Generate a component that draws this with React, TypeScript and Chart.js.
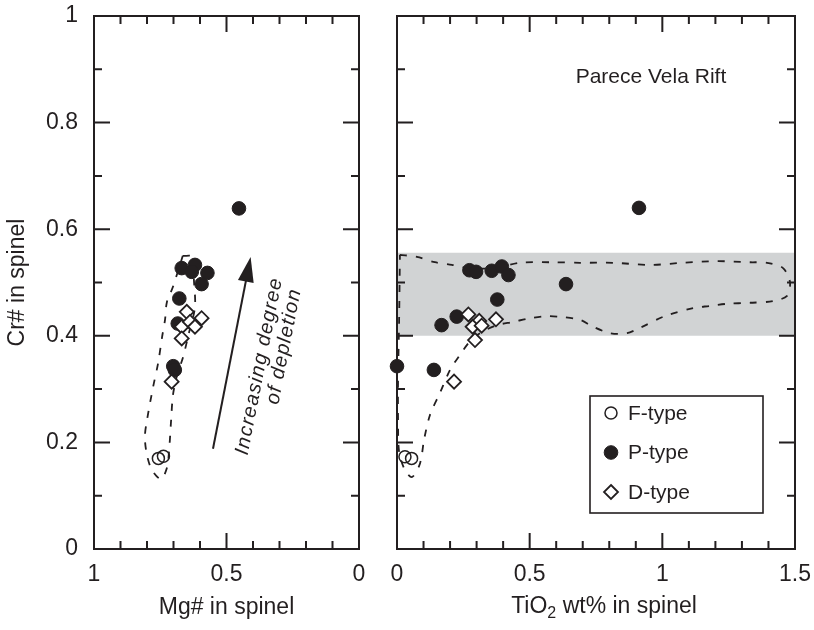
import { useEffect, useRef } from "react";
import { Chart, registerables } from "chart.js";

Chart.register(...registerables);

const FONT = "'Liberation Sans', Arial, Helvetica, sans-serif";
const INK = "#231f20";
const BAND_GREY = "#d1d3d4";

// Shared Cr# axis
const CR_TICKS = [0, 0.2, 0.4, 0.6, 0.8, 1];
const CR_MINOR = [0.1, 0.3, 0.5, 0.7, 0.9];

// Mg# panel axis
const MG_TICKS = [1, 0.5, 0];
const MG_MINOR = [0.1, 0.2, 0.3, 0.4, 0.6, 0.7, 0.8, 0.9];

// Mg# panel samples
const F_MG = [0.757, 0.738];
const F_MG_CR = [0.17, 0.174];
const P_MG = [0.453, 0.669, 0.619, 0.631, 0.572, 0.594, 0.678, 0.684, 0.701, 0.695];
const P_MG_CR = [0.639, 0.527, 0.533, 0.52, 0.518, 0.497, 0.47, 0.423, 0.343, 0.336];
const D_MG = [0.65, 0.669, 0.638, 0.594, 0.619, 0.669, 0.707];
const D_MG_CR = [0.445, 0.417, 0.426, 0.433, 0.417, 0.395, 0.314];

// Mg# panel field outline (closed)
const MG_FIELD_X = [0.665, 0.628, 0.623, 0.619, 0.642, 0.664, 0.687, 0.702, 0.709, 0.717, 0.725, 0.747, 0.781, 0.8, 0.808, 0.8, 0.777, 0.758, 0.743, 0.732, 0.725, 0.702, 0.665];
const MG_FIELD_Y = [0.55, 0.548, 0.505, 0.454, 0.405, 0.36, 0.325, 0.289, 0.242, 0.182, 0.152, 0.131, 0.148, 0.176, 0.21, 0.242, 0.304, 0.349, 0.398, 0.43, 0.463, 0.492, 0.55];

// Depletion trend arrow (Mg#, Cr#) and its caption
const TREND_FROM = [0.551, 0.188];
const TREND_TO = [0.409, 0.548];
const TREND_TEXT = ["Increasing degree", "of depletion"];
const TREND_TEXT_AT = [
  [0.376, 0.343],
  [0.283, 0.38],
];

// TiO2 panel axis
const TI_TICKS = [0, 0.5, 1, 1.5];
const TI_MINOR = [0.1, 0.2, 0.3, 0.4, 0.6, 0.7, 0.8, 0.9, 1.1, 1.2, 1.3, 1.4];

// TiO2 panel samples
const F_TI = [0.03, 0.055];
const F_TI_CR = [0.173, 0.17];
const P_TI = [0.0, 0.139, 0.168, 0.225, 0.273, 0.298, 0.357, 0.395, 0.42, 0.378, 0.637, 0.912];
const P_TI_CR = [0.343, 0.336, 0.42, 0.436, 0.523, 0.52, 0.522, 0.53, 0.514, 0.468, 0.497, 0.64];
const D_TI = [0.269, 0.31, 0.285, 0.319, 0.373, 0.294, 0.215];
const D_TI_CR = [0.44, 0.428, 0.417, 0.419, 0.431, 0.392, 0.314];

// TiO2 panel field outline (closed)
const TI_FIELD_X = [0.011, 0.075, 0.143, 0.207, 0.275, 0.369, 0.464, 0.588, 0.69, 0.814, 0.954, 1.078, 1.206, 1.331, 1.395, 1.455, 1.481, 1.47, 1.417, 1.331, 1.244, 1.18, 1.116, 1.01, 0.916, 0.867, 0.803, 0.739, 0.69, 0.626, 0.565, 0.501, 0.437, 0.377, 0.32, 0.279, 0.237, 0.2, 0.162, 0.124, 0.102, 0.087, 0.057, 0.03, 0.008, 0.004, 0.004, 0.008, 0.011];
const TI_FIELD_Y = [0.552, 0.548, 0.538, 0.533, 0.527, 0.527, 0.537, 0.538, 0.537, 0.537, 0.533, 0.537, 0.54, 0.538, 0.537, 0.527, 0.501, 0.475, 0.465, 0.462, 0.46, 0.456, 0.452, 0.437, 0.415, 0.405, 0.405, 0.417, 0.43, 0.435, 0.437, 0.433, 0.426, 0.42, 0.407, 0.392, 0.364, 0.336, 0.293, 0.251, 0.205, 0.161, 0.135, 0.148, 0.182, 0.242, 0.317, 0.43, 0.552];

// Shaded Cr# range
const BAND_X = [0, 1.5];
const BAND_LOW = [0.4, 0.4];
const BAND_HIGH = [0.556, 0.556];

const SITE_LABEL = "Parece Vela Rift";
const SITE_AT = [0.957, 0.886];

const pts = (xs: number[], ys: number[]) => xs.map((x, i) => ({ x, y: ys[i] }));

const fType = (data: any) => ({
  label: "F-type",
  data,
  pointStyle: "circle",
  pointRadius: 6,
  pointBorderWidth: 1.5,
  pointBackgroundColor: "rgba(255,255,255,0)",
  pointBorderColor: INK,
  backgroundColor: "rgba(255,255,255,0)",
  borderColor: INK,
  showLine: false,
  clip: false,
  order: 3,
  inLegend: true,
});
const pType = (data: any) => ({
  label: "P-type",
  data,
  pointStyle: "circle",
  pointRadius: 6.8,
  pointBorderWidth: 1,
  pointBackgroundColor: INK,
  pointBorderColor: INK,
  backgroundColor: INK,
  borderColor: INK,
  showLine: false,
  clip: false,
  order: 2,
  inLegend: true,
});
const dType = (data: any) => ({
  label: "D-type",
  data,
  pointStyle: "rectRot",
  pointRadius: 7,
  pointBorderWidth: 1.8,
  pointBackgroundColor: "#ffffff",
  pointBorderColor: INK,
  backgroundColor: "#ffffff",
  borderColor: INK,
  showLine: false,
  clip: false,
  order: 1,
  inLegend: true,
});
const field = (data: any) => ({
  label: "field",
  data,
  showLine: true,
  borderColor: INK,
  borderWidth: 1.8,
  borderDash: [7, 9],
  pointRadius: 0,
  tension: 0.3,
  fill: false,
  clip: false,
  order: 5,
});

// Frame with inward ticks on all four sides
const framePlugin = (xMajor: number[], xMinor: number[]) => ({
  id: "frame",
  afterDatasetsDraw(chart: any) {
    const { ctx, chartArea: a, scales } = chart;
    const xs = scales.x;
    const ys = scales.y;
    ctx.save();
    ctx.strokeStyle = INK;
    ctx.lineWidth = 2;
    ctx.strokeRect(a.left, a.top, a.right - a.left, a.bottom - a.top);
    const yTick = (v: number, len: number) => {
      const p = ys.getPixelForValue(v);
      ctx.beginPath();
      ctx.moveTo(a.left, p);
      ctx.lineTo(a.left + len, p);
      ctx.moveTo(a.right, p);
      ctx.lineTo(a.right - len, p);
      ctx.stroke();
    };
    const xTick = (v: number, len: number) => {
      const p = xs.getPixelForValue(v);
      ctx.beginPath();
      ctx.moveTo(p, a.bottom);
      ctx.lineTo(p, a.bottom - len);
      ctx.moveTo(p, a.top);
      ctx.lineTo(p, a.top + len);
      ctx.stroke();
    };
    CR_TICKS.forEach((v) => yTick(v, 16));
    CR_MINOR.forEach((v) => yTick(v, 8));
    xMajor.forEach((v) => xTick(v, 16));
    xMinor.forEach((v) => xTick(v, 8));
    ctx.restore();
  },
});

const trendPlugin = {
  id: "trend",
  afterDatasetsDraw(chart: any) {
    const { ctx, scales } = chart;
    const x0 = scales.x.getPixelForValue(TREND_FROM[0]);
    const y0 = scales.y.getPixelForValue(TREND_FROM[1]);
    const x1 = scales.x.getPixelForValue(TREND_TO[0]);
    const y1 = scales.y.getPixelForValue(TREND_TO[1]);
    const ang = Math.atan2(y1 - y0, x1 - x0);
    const headLen = 25;
    const headHalf = 8;
    const bx = x1 - headLen * Math.cos(ang);
    const by = y1 - headLen * Math.sin(ang);
    ctx.save();
    ctx.strokeStyle = INK;
    ctx.fillStyle = INK;
    ctx.lineWidth = 2;
    ctx.beginPath();
    ctx.moveTo(x0, y0);
    ctx.lineTo(bx + 2 * Math.cos(ang), by + 2 * Math.sin(ang));
    ctx.stroke();
    ctx.beginPath();
    ctx.moveTo(x1, y1);
    ctx.lineTo(bx + headHalf * Math.sin(ang), by - headHalf * Math.cos(ang));
    ctx.lineTo(bx - headHalf * Math.sin(ang), by + headHalf * Math.cos(ang));
    ctx.closePath();
    ctx.fill();

    ctx.font = `italic 20px ${FONT}`;
    (ctx as any).letterSpacing = "1.2px";
    ctx.textAlign = "center";
    ctx.textBaseline = "middle";
    TREND_TEXT.forEach((t, i) => {
      const px = scales.x.getPixelForValue(TREND_TEXT_AT[i][0]);
      const py = scales.y.getPixelForValue(TREND_TEXT_AT[i][1]);
      ctx.save();
      ctx.translate(px, py);
      ctx.rotate(ang);
      ctx.fillText(t, 0, 0);
      ctx.restore();
    });
    ctx.restore();
  },
};

function drawMarker(ctx: CanvasRenderingContext2D, ds: any, x: number, y: number) {
  const r = ds.pointRadius;
  ctx.beginPath();
  if (ds.pointStyle === "rectRot") {
    ctx.moveTo(x, y - r);
    ctx.lineTo(x + r, y);
    ctx.lineTo(x, y + r);
    ctx.lineTo(x - r, y);
    ctx.closePath();
  } else {
    ctx.arc(x, y, r, 0, Math.PI * 2);
  }
  ctx.fillStyle = ds.pointBackgroundColor;
  ctx.fill();
  ctx.lineWidth = ds.pointBorderWidth;
  ctx.strokeStyle = ds.pointBorderColor;
  ctx.stroke();
}

const rightDecorPlugin = {
  id: "rightDecor",
  afterDraw(chart: any) {
    const { ctx, chartArea: a, scales } = chart;
    ctx.save();
    ctx.fillStyle = INK;
    ctx.textBaseline = "middle";

    // site name
    ctx.font = `21px ${FONT}`;
    ctx.textAlign = "center";
    ctx.fillText(SITE_LABEL, scales.x.getPixelForValue(SITE_AT[0]), scales.y.getPixelForValue(SITE_AT[1]));

    // legend box
    const w = 173;
    const h = 117;
    const bl = a.right - 32 - w;
    const bt = a.bottom - 36 - h;
    ctx.fillStyle = "#ffffff";
    ctx.fillRect(bl, bt, w, h);
    ctx.strokeStyle = INK;
    ctx.lineWidth = 1.6;
    ctx.strokeRect(bl, bt, w, h);
    const entries = chart.data.datasets.filter((d: any) => d.inLegend);
    entries.forEach((ds: any, i: number) => {
      const ry = bt + 17 + i * 39.5;
      drawMarker(ctx, ds, bl + 21, ry);
      ctx.fillStyle = INK;
      ctx.font = `21px ${FONT}`;
      ctx.textAlign = "left";
      ctx.fillText(ds.label, bl + 38, ry + 1);
    });

    // x-axis title with subscript
    const big = `23px ${FONT}`;
    const small = `16px ${FONT}`;
    const parts = [
      { t: "TiO", f: big, dy: 0 },
      { t: "2", f: small, dy: 7 },
      { t: " wt% in spinel", f: big, dy: 0 },
    ];
    let total = 0;
    parts.forEach((p) => {
      ctx.font = p.f;
      total += ctx.measureText(p.t).width;
    });
    let cx = (a.left + a.right) / 2 + 8 - total / 2;
    const ty = 607;
    ctx.textAlign = "left";
    ctx.fillStyle = INK;
    parts.forEach((p) => {
      ctx.font = p.f;
      ctx.fillText(p.t, cx, ty + p.dy);
      cx += ctx.measureText(p.t).width;
    });
    ctx.restore();
  },
};

const tickFont = { family: FONT, size: 23 };

function leftConfig(): any {
  return {
    type: "scatter",
    data: {
      datasets: [
        field(pts(MG_FIELD_X, MG_FIELD_Y)),
        fType(pts(F_MG, F_MG_CR)),
        pType(pts(P_MG, P_MG_CR)),
        dType(pts(D_MG, D_MG_CR)),
      ],
    },
    options: {
      responsive: false,
      animation: false,
      events: [],
      layout: { padding: { left: 0, right: 21, top: 16, bottom: 0 } },
      plugins: { legend: { display: false }, tooltip: { enabled: false } },
      scales: {
        x: {
          type: "linear",
          position: "bottom",
          reverse: true,
          min: 0,
          max: 1,
          grid: { display: false, drawTicks: false },
          border: { display: false },
          afterBuildTicks: (s: any) => {
            s.ticks = MG_TICKS.map((v) => ({ value: v }));
          },
          afterFit: (s: any) => {
            s.height = 81;
            s.paddingLeft = 0;
            s.paddingRight = 0;
          },
          ticks: {
            autoSkip: false,
            maxRotation: 0,
            padding: 12,
            color: INK,
            font: tickFont,
            callback: (v: any) => `${v}`,
          },
          title: {
            display: true,
            text: "Mg# in spinel",
            color: INK,
            font: { family: FONT, size: 23 },
            padding: { top: 0, bottom: 9 },
          },
        },
        y: {
          type: "linear",
          position: "left",
          min: 0,
          max: 1,
          grid: { display: false, drawTicks: false },
          border: { display: false },
          afterBuildTicks: (s: any) => {
            s.ticks = CR_TICKS.map((v) => ({ value: v }));
          },
          afterFit: (s: any) => {
            s.width = 94;
            s.paddingTop = 0;
            s.paddingBottom = 0;
          },
          ticks: {
            autoSkip: false,
            padding: 16,
            color: INK,
            font: tickFont,
            callback: (v: any) => `${v}`,
          },
          title: {
            display: true,
            text: "Cr# in spinel",
            color: INK,
            font: { family: FONT, size: 23 },
            padding: { top: 4, bottom: 0 },
          },
        },
      },
    },
    plugins: [framePlugin(MG_TICKS, MG_MINOR), trendPlugin],
  };
}

function rightConfig(): any {
  return {
    type: "scatter",
    data: {
      datasets: [
        {
          label: "band-low",
          data: pts(BAND_X, BAND_LOW),
          showLine: true,
          borderWidth: 0,
          borderColor: "rgba(0,0,0,0)",
          pointRadius: 0,
          fill: "+1",
          backgroundColor: BAND_GREY,
          order: 10,
        },
        {
          label: "band-high",
          data: pts(BAND_X, BAND_HIGH),
          showLine: true,
          borderWidth: 0,
          borderColor: "rgba(0,0,0,0)",
          pointRadius: 0,
          fill: false,
          order: 9,
        },
        field(pts(TI_FIELD_X, TI_FIELD_Y)),
        fType(pts(F_TI, F_TI_CR)),
        pType(pts(P_TI, P_TI_CR)),
        dType(pts(D_TI, D_TI_CR)),
      ],
    },
    options: {
      responsive: false,
      animation: false,
      events: [],
      layout: { padding: { left: 17, right: 19, top: 16, bottom: 0 } },
      plugins: { legend: { display: false }, tooltip: { enabled: false } },
      scales: {
        x: {
          type: "linear",
          position: "bottom",
          min: 0,
          max: 1.5,
          grid: { display: false, drawTicks: false },
          border: { display: false },
          afterBuildTicks: (s: any) => {
            s.ticks = TI_TICKS.map((v) => ({ value: v }));
          },
          afterFit: (s: any) => {
            s.height = 81;
            s.paddingLeft = 0;
            s.paddingRight = 0;
          },
          ticks: {
            autoSkip: false,
            maxRotation: 0,
            padding: 12,
            color: INK,
            font: tickFont,
            callback: (v: any) => `${v}`,
          },
          title: { display: false },
        },
        y: {
          type: "linear",
          display: false,
          min: 0,
          max: 1,
        },
      },
    },
    plugins: [framePlugin(TI_TICKS, TI_MINOR), rightDecorPlugin],
  };
}

export default function App() {
  const leftRef = useRef<HTMLCanvasElement>(null);
  const rightRef = useRef<HTMLCanvasElement>(null);

  useEffect(() => {
    const left = new Chart(leftRef.current as HTMLCanvasElement, leftConfig());
    const right = new Chart(rightRef.current as HTMLCanvasElement, rightConfig());
    return () => {
      left.destroy();
      right.destroy();
    };
  }, []);

  return (
    <div style={{ position: "fixed", left: 0, top: 0, width: 814, height: 630, background: "#ffffff" }}>
      <canvas ref={leftRef} width={380} height={630} style={{ position: "absolute", left: 0, top: 0 }} />
      <canvas ref={rightRef} width={434} height={630} style={{ position: "absolute", left: 380, top: 0 }} />
    </div>
  );
}
